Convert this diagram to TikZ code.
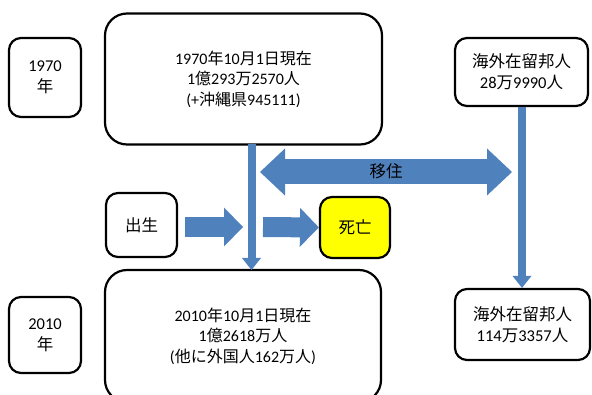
\documentclass[tikz,border=0pt]{standalone}
\usepackage{fontspec}
\setmainfont{Carlito}
\newfontfamily\cjk{Noto Sans CJK JP}
\usetikzlibrary{arrows.meta}
\definecolor{arblue}{HTML}{4F81BD}
\definecolor{boxyellow}{HTML}{FFFF00}
\tikzset{
  box/.style={draw=black, line width=2.2pt, fill=white, rounded corners=12pt, align=center, inner sep=0pt},
  bigbox/.style={box, rounded corners=22pt},
  bigtext/.style={font=\fontsize{16}{20.5}\selectfont},
  smalltext/.style={font=\fontsize{16.5}{21}\selectfont},
  thinarrow/.style={draw=arblue, line width=8pt, -{Triangle[width=19pt,length=12pt,line width=0pt]}},
  fatarrow/.style={draw=arblue, line width=20pt, -{Triangle[width=39pt,length=19pt,line width=0pt]}},
  dblarrow/.style={draw=arblue, line width=25pt, {Triangle[width=47pt,length=25pt,line width=0pt]}-{Triangle[width=47pt,length=25pt,line width=0pt]}}
}
\begin{document}
\begin{tikzpicture}[x=1pt,y=-1pt]
\useasboundingbox (0,0) rectangle (592,395);
% nodes
\node[box, smalltext, minimum width=72pt, minimum height=79pt] (y1970) at (45,77.5) {1970\\{\cjk 年}};
\node[bigbox, bigtext, minimum width=277pt, minimum height=131pt] (top) at (243.5,79)
  {1970{\cjk 年}10{\cjk 月}1{\cjk 日現在}\\1{\cjk 億}293{\cjk 万}2570{\cjk 人}\\(+{\cjk 沖縄県}945111)};
\node[box, smalltext, minimum width=133pt, minimum height=68pt] (abroad1) at (521.5,72)
  {{\cjk 海外在留邦人}\\28{\cjk 万}9990{\cjk 人}};
\node[box, smalltext, minimum width=71pt, minimum height=64pt] (birth) at (141.5,225) {\cjk 出生};
\node[box, smalltext, fill=boxyellow, minimum width=70pt, minimum height=61pt] (death) at (355,227.5) {\cjk 死亡};
\node[box, smalltext, minimum width=72pt, minimum height=76pt] (y2010) at (45,335) {2010\\{\cjk 年}};
\node[bigbox, bigtext, minimum width=276pt, minimum height=132pt] (bottom) at (243,336)
  {2010{\cjk 年}10{\cjk 月}1{\cjk 日現在}\\1{\cjk 億}2618{\cjk 万人}\\({\cjk 他に外国人}162{\cjk 万人})};
\node[box, smalltext, minimum width=135pt, minimum height=71pt] (abroad2) at (522.5,324.5)
  {{\cjk 海外在留邦人}\\114{\cjk 万}3357{\cjk 人}};
% connector coordinates
\coordinate (v1s) at (251.5,144);
\coordinate (v1e) at (251.5,270);
\coordinate (migL) at (260,172);
\coordinate (migR) at (512,172);
\coordinate (b1s) at (185,227);
\coordinate (b1e) at (243,227);
\coordinate (b2s) at (263,227);
% connectors
\draw[thinarrow] (v1s) -- (v1e);
\draw[thinarrow] (abroad1.south -| 522,0) -- (abroad2.north -| 522,0);
\draw[dblarrow] (migL) -- (migR);
\node[smalltext] (mig) at (386,171) {\cjk 移住};
\draw[fatarrow] (b1s) -- (b1e);
\draw[fatarrow] (b2s) -- (death.west);
\end{tikzpicture}
\end{document}
